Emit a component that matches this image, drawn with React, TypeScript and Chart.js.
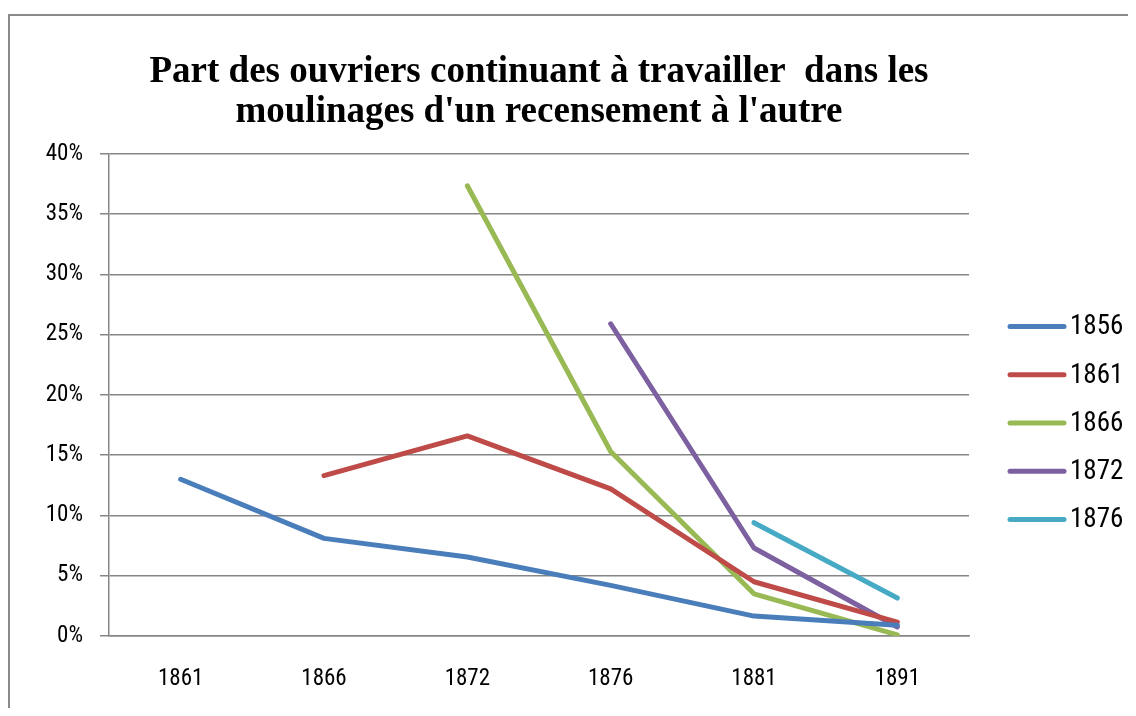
import React, { useEffect, useRef } from "react";
import { Chart, registerables } from "chart.js";

Chart.register(...registerables);

const categories = ["1861", "1866", "1872", "1876", "1881", "1891"];
const seriesLabels = ["1856", "1861", "1866", "1872", "1876"];
const s1856 = [13.0, 8.1, 6.55, 4.2, 1.65, 0.9];
const s1861 = [null, 13.3, 16.6, 12.2, 4.5, 1.15];
const s1866 = [null, null, 37.35, 15.3, 3.5, 0.1];
const s1872 = [null, null, null, 25.9, 7.3, 0.75];
const s1876 = [null, null, null, null, 9.4, 3.15];
const seriesColors = ["#4A7EBB", "#BE4B48", "#98B954", "#7D60A0", "#46AAC5"];
const yTicks = [0, 5, 10, 15, 20, 25, 30, 35, 40];

const TICK_FONT = "'Liberation Sans Narrow', 'Roboto Condensed', Roboto";

const customLegend = {
  id: "customLegend",
  afterDraw(chart: any) {
    const ctx = chart.ctx;
    const area = chart.chartArea;
    const x0 = area.right + 41;
    const lineW = 54;
    const spacing = 48.25;
    const n = chart.data.datasets.length;
    const cy = 407;
    ctx.save();
    ctx.font = `27px ${TICK_FONT}`;
    ctx.textBaseline = "middle";
    ctx.textAlign = "left";
    chart.data.datasets.forEach((ds: any, i: number) => {
      const y = cy + (i - (n - 1) / 2) * spacing;
      ctx.strokeStyle = ds.borderColor;
      ctx.lineWidth = 5;
      ctx.lineCap = "round";
      ctx.beginPath();
      ctx.moveTo(x0, y);
      ctx.lineTo(x0 + lineW, y);
      ctx.stroke();
      ctx.fillStyle = "#000";
      ctx.fillText(ds.label, x0 + lineW + 6, y + 1);
    });
    ctx.restore();
  },
};

export default function App() {
  const ref = useRef<HTMLCanvasElement | null>(null);
  useEffect(() => {
    if (!ref.current) return;
    const seriesData = [s1856, s1861, s1866, s1872, s1876];
    const chart = new Chart(ref.current, {
      type: "line",
      data: {
        labels: categories,
        datasets: seriesLabels.map((lab, i) => ({
          label: lab,
          data: seriesData[i],
          borderColor: seriesColors[i],
          backgroundColor: seriesColors[i],
          borderWidth: 5,
          borderCapStyle: "round",
          borderJoinStyle: "round",
          pointRadius: 0,
          pointHoverRadius: 0,
          tension: 0,
          spanGaps: false,
          fill: false,
        })),
      },
      options: {
        animation: false,
        responsive: false,
        maintainAspectRatio: false,
        events: [],
        layout: { padding: { left: 0, right: 167, top: 0, bottom: 0 } },
        plugins: {
          legend: { display: false },
          tooltip: { enabled: false },
          title: {
            display: true,
            fullSize: false,
            text: [
              "Part des ouvriers continuant à travailler  dans les",
              "moulinages d'un recensement à l'autre",
            ],
            color: "#000",
            font: { family: "'Liberation Serif', 'Times New Roman', serif", size: 37, weight: "bold", lineHeight: 1.1 },
            padding: { top: 35.6, bottom: 20.8 },
          },
        },
        scales: {
          x: {
            offset: true,
            grid: { display: false, drawTicks: false },
            border: { display: true, color: "#868686", width: 1.5 },
            ticks: {
              color: "#000",
              font: { family: TICK_FONT, size: 23 },
              padding: 29,
              maxRotation: 0,
            },
            afterFit: (scale: any) => {
              scale.height = 72;
            },
          },
          y: {
            min: 0,
            max: 40,
            afterBuildTicks: (scale: any) => {
              scale.ticks = yTicks.map((v) => ({ value: v }));
            },
            afterFit: (scale: any) => {
              scale.width = 99;
            },
            grid: {
              color: "#868686",
              lineWidth: 1.5,
              drawTicks: true,
              tickLength: 9,
              tickColor: "#868686",
            },
            border: { display: true, color: "#868686", width: 1.5 },
            ticks: {
              color: "#000",
              font: { family: TICK_FONT, size: 23 },
              padding: 17,
              callback: (v: any) => `${v}%`,
            },
          },
        },
      },
      plugins: [customLegend],
    });
    return () => chart.destroy();
  }, []);
  return (
    <div style={{ paddingTop: 6 }}>
      <div
        style={{
          borderLeft: "2px solid #898989",
          borderTop: "2px solid #898989",
          width: 1126,
          height: 692,
          overflow: "hidden",
          background: "#fff",
        }}
      >
        <canvas ref={ref} width={1126} height={692} style={{ display: "block" }} />
      </div>
    </div>
  );
}
